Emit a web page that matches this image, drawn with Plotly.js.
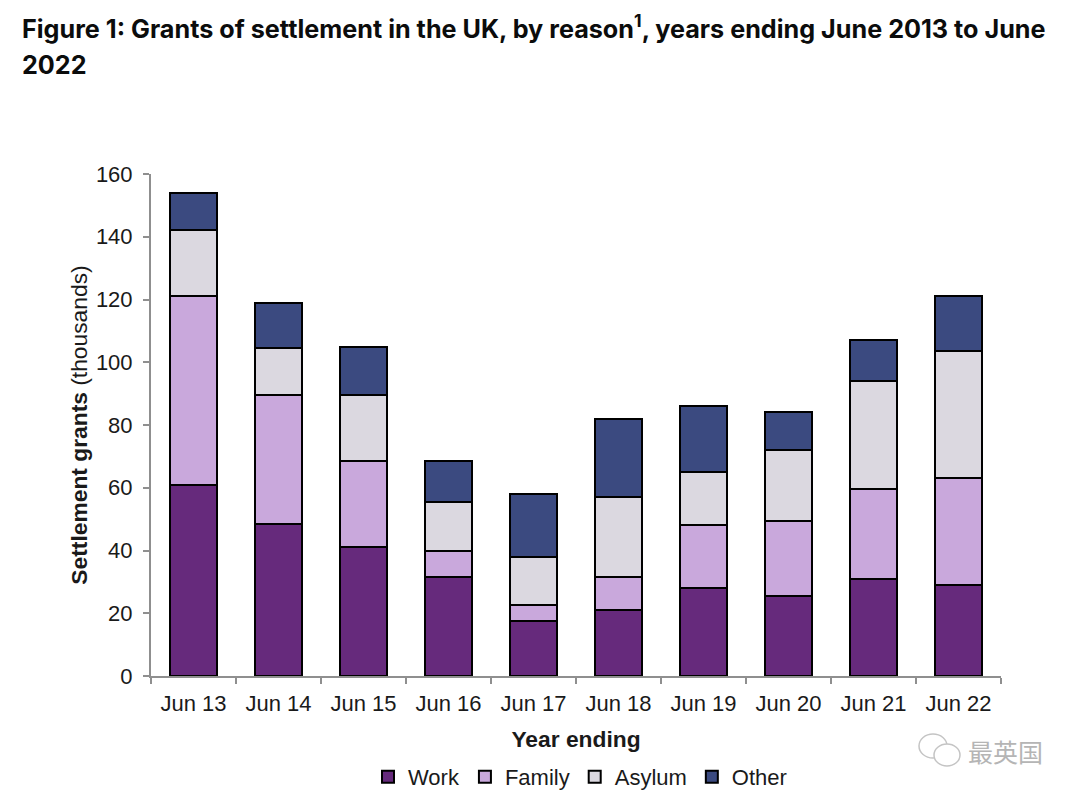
<!DOCTYPE html>
<html><head><meta charset="utf-8">
<script src="https://cdn.plot.ly/plotly-3.0.1.min.js"></script>
<style>html,body{margin:0;padding:0;background:#fff}</style></head>
<body><div id="chart" style="width:1080px;height:799px"></div>
<script>
const categories = ["Jun 13","Jun 14","Jun 15","Jun 16","Jun 17","Jun 18","Jun 19","Jun 20","Jun 21","Jun 22"];
const work   = [61,48.5,41,31.5,17.5,21,28,25.5,31,29];
const family = [60,41,27.5,8.5,5,10.5,20,24,28.5,34];
const asylum = [21,15,21,15.5,15.5,25.5,17,22.5,34.5,40.5];
const other  = [12,14.5,15.5,13,20,25,21,12,13,17.5];
const yTicks = [0,20,40,60,80,100,120,140,160];
const sans = '"Liberation Sans", Arial, sans-serif';
const tickFont = {family:sans, size:22, color:'#1a1a1a'};
const axisFont = {family:sans, size:22.8, color:'#1a1a1a'};
const titleFont = {family:'Inter, "Noto Sans", sans-serif',size:25.2,color:'#0b0c0c'};
const mk = (name,y,color)=>({type:'bar',name,x:categories,y,
  marker:{color,line:{color:'#000',width:2}},hoverinfo:'x+y+name'});
const data = [mk('Work',work,'#662a7c'),mk('Family',family,'#c9a8dc'),mk('Asylum',asylum,'#dbd8e0'),mk('Other',other,'#3b4a80')];
const px = x=>(x-151)/850, py = y=>(676-y)/502;
const layout = {
  width:1080,height:799,paper_bgcolor:'#fff',plot_bgcolor:'#fff',
  margin:{l:151,r:79,t:174,b:123,autoexpand:false},
  barmode:'stack',bargap:0.44,
  font:tickFont,
  title:{text:'<b>Figure 1: Grants of settlement in the UK, by reason<sup>1</sup>, years ending June 2013 to June</b>',
    x:22/1080,xanchor:'left',y:1-29/799,yanchor:'middle',font:titleFont},
  xaxis:{type:'category',tickmode:'array',tickvals:categories,ticktext:categories,tickson:'boundaries',
    showline:true,linecolor:'#8f8f8f',linewidth:2,showgrid:false,zeroline:false,
    ticks:'outside',ticklen:6,tickwidth:2,tickcolor:'#8f8f8f',tickfont:tickFont,ticklabelstandoff:7,
    title:{text:'<b>Year ending</b>',font:axisFont,standoff:16}},
  yaxis:{range:[0,160],tickmode:'array',tickvals:yTicks,
    showline:true,linecolor:'#8f8f8f',linewidth:2,showgrid:false,zeroline:false,
    ticks:'outside',ticklen:6,tickwidth:2,tickcolor:'#8f8f8f',tickfont:tickFont,ticklabelstandoff:6,
    title:{text:'<b>Settlement grants</b> (thousands)',font:axisFont,standoff:2}},
  legend:{orientation:'h',x:px(368),xanchor:'left',y:py(777),yanchor:'middle',
    traceorder:'normal',font:tickFont,itemwidth:30},
  annotations:[
    {text:'<b>2022</b>',xref:'paper',yref:'paper',x:px(20),y:py(65),xanchor:'left',yanchor:'middle',
      showarrow:false,font:titleFont},
    {text:'最英国',xref:'paper',yref:'paper',x:px(1005),y:py(751),xanchor:'center',yanchor:'middle',
      showarrow:false,font:{family:'"Noto Sans CJK SC", sans-serif',size:25,color:'#b5b5b5'}}
  ],
  shapes:[
    {type:'circle',xref:'paper',yref:'paper',x0:px(919),x1:px(947),y0:py(758),y1:py(734),line:{color:'#c4c4c4',width:1.5},fillcolor:'#fff'},
    {type:'circle',xref:'paper',yref:'paper',x0:px(934),x1:px(960),y0:py(766),y1:py(744),line:{color:'#c4c4c4',width:1.5},fillcolor:'#fff'}
  ]
};
Plotly.newPlot('chart',data,layout,{displayModeBar:false});
</script></body></html>
